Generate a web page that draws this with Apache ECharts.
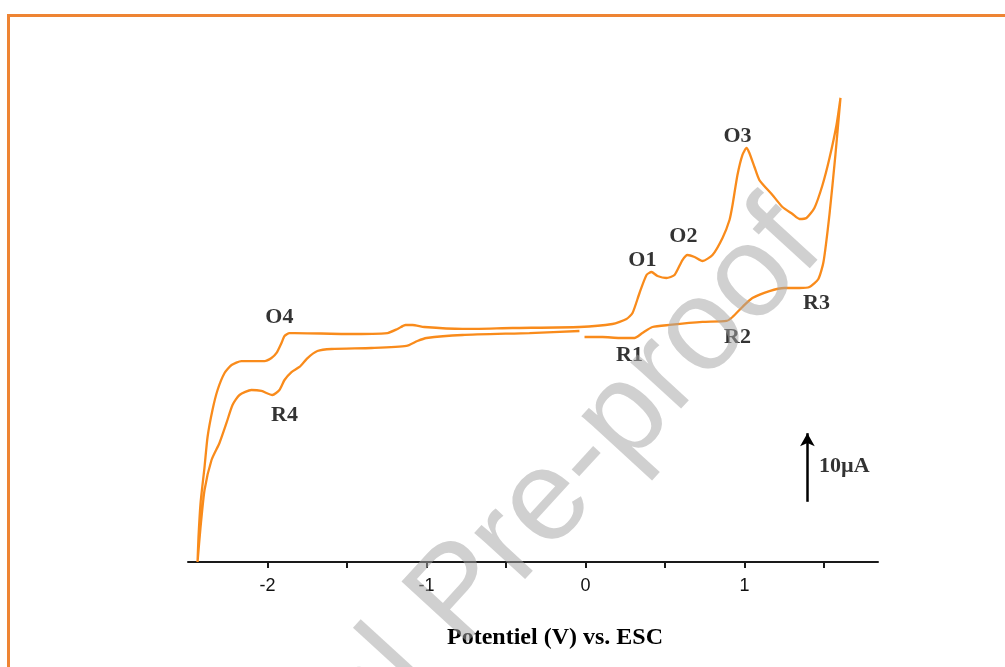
<!DOCTYPE html>
<html><head><meta charset="utf-8">
<script src="https://cdn.jsdelivr.net/npm/echarts@6/dist/echarts.min.js"></script>
<style>html,body{margin:0;padding:0;background:#fff}#c{width:1005px;height:667px}</style>
</head><body><div id="c"></div>
<script>
// Cyclic voltammogram: potential (V vs. ESC) and current (µA, arbitrary zero)
const cvPotential = [
  -0.006, 0.107, 0.214, 0.308, 0.358, 0.421, 0.528, 0.736, 0.887, 0.925, 0.987, 1.050, 1.157, 1.252, 1.346, 1.409, 1.465, 1.497, 1.535, 1.572, 1.604,
  1.579, 1.535, 1.491, 1.440, 1.390, 1.346, 1.302, 1.239, 1.176, 1.094, 1.063, 1.031, 1.013, 0.987, 0.956, 0.925, 0.906, 0.862, 0.799, 0.736, 0.686, 0.642, 0.610, 0.560, 0.509, 0.453, 0.415, 0.384, 0.340, 0.296, 0.258, 0.170, -0.038, -0.459, -0.774, -1.013, -1.088, -1.132, -1.182, -1.245, -1.497, -1.830, -1.862, -1.893, -1.912, -1.943, -1.975, -2.019, -2.164, -2.226, -2.270, -2.314, -2.346, -2.377, -2.396, -2.421, -2.434, -2.440,
  -2.421, -2.396, -2.352, -2.302, -2.258, -2.220, -2.176, -2.101, -2.038, -1.969, -1.925, -1.893, -1.849, -1.799, -1.748, -1.686, -1.597, -1.346, -1.126, -1.057, -1.000, -0.774, -0.352, -0.038
];
const cvCurrent = [
  -0.86, -0.86, -1.0, -1.0, -0.29, 0.57, 0.86, 1.29, 1.43, 2.0, 3.43, 4.71, 5.71, 6.14, 6.14, 6.29, 7.43, 9.86, 16.71, 25.14, 33.29,
  29.43, 24.71, 20.86, 17.57, 16.14, 16.0, 16.71, 17.71, 19.43, 21.57, 23.43, 25.43, 26.14, 25.14, 22.29, 18.0, 15.86, 13.29, 10.86, 10.0, 10.57, 10.86, 10.14, 8.0, 7.57, 7.86, 8.43, 8.0, 5.43, 2.57, 1.71, 1.0, 0.57, 0.43, 0.29, 0.57, 0.86, 0.86, 0.29, -0.29, -0.43, -0.29, -0.29, -0.71, -1.71, -3.14, -3.86, -4.29, -4.29, -4.86, -6.0, -8.43, -11.29, -15.14, -19.43, -24.57, -29.43, -33.0,
  -28.0, -22.71, -18.43, -16.0, -13.14, -10.57, -9.14, -8.43, -8.57, -9.14, -8.43, -7.0, -5.86, -5.14, -3.86, -2.86, -2.57, -2.43, -2.14, -1.43, -1.0, -0.57, -0.29, 0.0
];
const peakNames = ['O4', 'R4', 'R1', 'O1', 'O2', 'O3', 'R2', 'R3'];
const peakPotential = [-1.925, -1.893, 0.277, 0.358, 0.616, 0.956, 0.956, 1.453];
const peakCurrent = [2.0, -12.0, -3.43, 10.14, 13.57, 27.86, -0.86, 4.0];
const xTickValues = [-2, -1.5, -1, -0.5, 0, 0.5, 1, 1.5];
const xTickLabels = [-2, -1, 0, 1];
const scaleBarPotential = 1.396;
const scaleBarCurrent = [-24.4, -14.6];
const scaleBarText = '10µA';
const scaleTextPotential = 1.466;
const scaleTextCurrent = -19.4;

const cvData = cvPotential.map((v, i) => [v, cvCurrent[i]]);
const peakData = peakNames.map((n, i) => [peakPotential[i], peakCurrent[i], n]);

const chart = echarts.init(document.getElementById('c'), null, {renderer: 'canvas'});
chart.setOption({
  backgroundColor: '#ffffff',
  animation: false,
  grid: {left: 188, right: 127, top: 51, bottom: 105},
  xAxis: {
    type: 'value', min: -2.5, max: 1.84, interval: 0.5,
    axisLine: {onZero: false, lineStyle: {color: '#1a1a1a', width: 2}},
    axisTick: {show: true, customValues: xTickValues, length: 6, lineStyle: {color: '#1a1a1a', width: 2}},
    axisLabel: {customValues: xTickLabels, fontSize: 18, color: '#111', margin: 15, fontFamily: 'Liberation Sans'},
    splitLine: {show: false},
    name: 'Potentiel (V) vs. ESC', nameLocation: 'middle', nameGap: 64,
    nameTextStyle: {fontFamily: 'Liberation Serif', fontWeight: 'bold', fontSize: 24, color: '#000', padding: [0, 0, 0, 44]}
  },
  yAxis: {type: 'value', min: -33, max: 40, show: false},
  series: [
    {
      type: 'line', data: cvData, showSymbol: false, smooth: 0.2,
      lineStyle: {color: '#F98B1B', width: 2.3}, z: 2
    },
    {
      type: 'scatter', data: peakData, symbolSize: 1, itemStyle: {color: 'rgba(0,0,0,0)'},
      label: {show: true, position: 'inside', formatter: p => p.data[2],
        fontFamily: 'Liberation Serif', fontWeight: 'bold', fontSize: 22, color: '#000'}, z: 3
    },
    {
      type: 'scatter', data: [[scaleTextPotential, scaleTextCurrent, scaleBarText]], symbolSize: 1,
      itemStyle: {color: 'rgba(0,0,0,0)'},
      label: {show: true, position: 'right', distance: 0, formatter: p => p.data[2],
        fontFamily: 'Liberation Serif', fontWeight: 'bold', fontSize: 22, color: '#000'},
      markLine: {
        silent: true, symbol: ['none', 'arrow'], symbolSize: [11, 13],
        lineStyle: {color: '#000', width: 2.5, type: 'solid'}, label: {show: false},
        data: [[{coord: [scaleBarPotential, scaleBarCurrent[0]]}, {coord: [scaleBarPotential, scaleBarCurrent[1]]}]]
      }, z: 3
    }
  ],
  graphic: [
    {type: 'rect', z: 200, shape: {x: 8.5, y: 15.5, width: 1100, height: 700},
      style: {fill: 'none', stroke: '#EE8433', lineWidth: 3}},
    {type: 'text', z: 200, x: 800, y: 226, rotation: 47.5 * Math.PI / 180,
      style: {text: 'Journal Pre-proof', font: '130px "Liberation Sans"', fill: 'rgba(164,164,164,0.52)',
        align: 'right', verticalAlign: 'middle'}}
  ]
});
</script></body></html>
